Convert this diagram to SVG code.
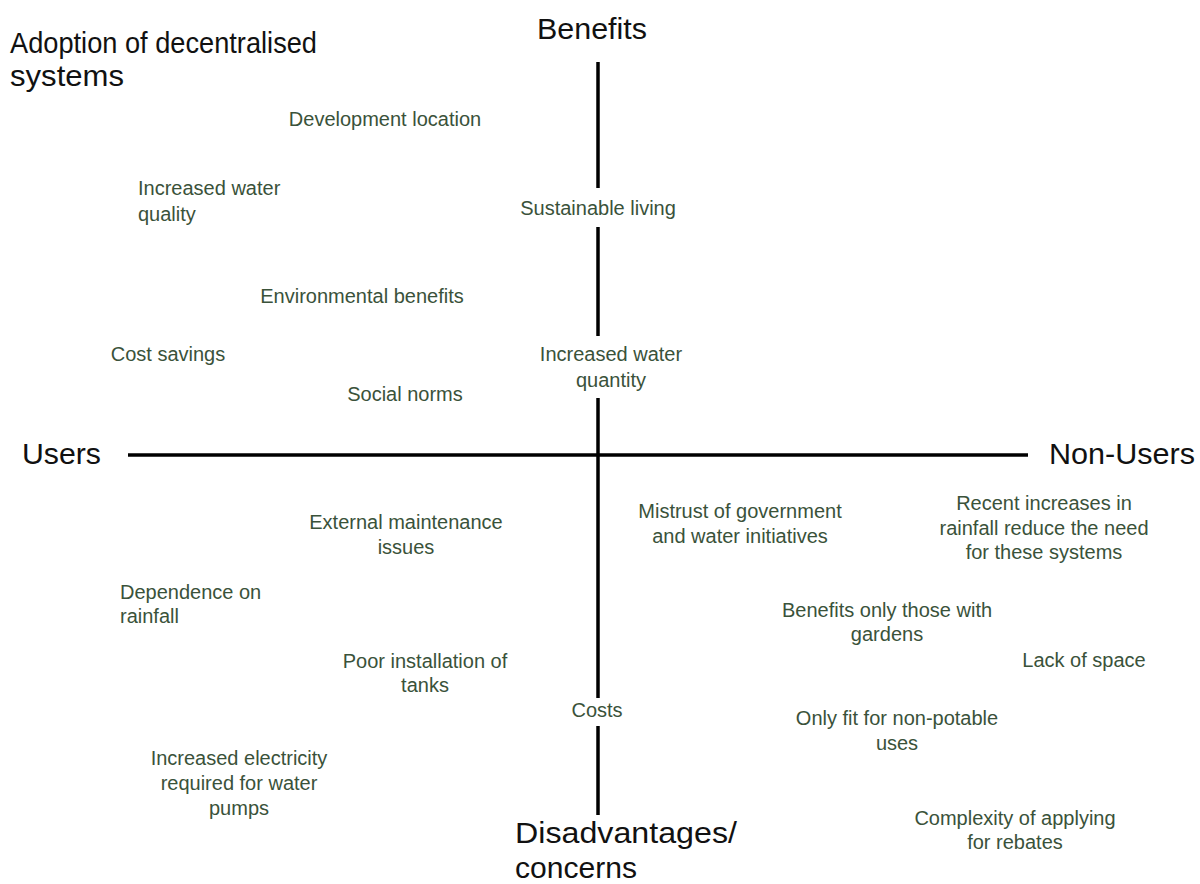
<svg xmlns="http://www.w3.org/2000/svg" width="1200" height="884" viewBox="0 0 1200 884">
<style>
.h{font-family:"Liberation Sans",Arial,sans-serif;font-size:30px;fill:#111}
.t{font-family:"Liberation Sans",Arial,sans-serif;font-size:20px;fill:#3a523a;text-anchor:middle}
.l{text-anchor:start}
.ax{stroke:#000;stroke-width:3.5;fill:none}
</style>
<rect width="1200" height="884" fill="#fff"/>
<g id="axes">
<line class="ax" x1="128" y1="455" x2="1028" y2="455"/>
<line class="ax" x1="598" y1="62" x2="598" y2="188"/>
<line class="ax" x1="598" y1="227" x2="598" y2="336"/>
<line class="ax" x1="598" y1="398" x2="598" y2="698"/>
<line class="ax" x1="598" y1="726" x2="598" y2="815"/>
</g>
<g id="title"><text class="h" x="10" y="53" font-size="28" textLength="307" lengthAdjust="spacingAndGlyphs">Adoption of decentralised</text><text class="h" x="10" y="86" font-size="28" textLength="114" lengthAdjust="spacingAndGlyphs">systems</text></g>
<g id="benefits"><text class="h" x="537" y="39" textLength="110" lengthAdjust="spacingAndGlyphs">Benefits</text></g>
<g id="users"><text class="h" x="22" y="464" textLength="79" lengthAdjust="spacingAndGlyphs">Users</text></g>
<g id="nonusers"><text class="h" x="1049" y="464" textLength="146" lengthAdjust="spacingAndGlyphs">Non-Users</text></g>
<g id="disadvantages"><text class="h" x="515" y="843" textLength="222" lengthAdjust="spacingAndGlyphs">Disadvantages/</text><text class="h" x="515" y="878" textLength="122" lengthAdjust="spacingAndGlyphs">concerns</text></g>
<g id="n1"><text class="t" x="385" y="126">Development location</text></g>
<g id="n2"><text class="t l" x="138" y="195">Increased water</text><text class="t l" x="138" y="221">quality</text></g>
<g id="n3"><text class="t" x="598" y="215">Sustainable living</text></g>
<g id="n4"><text class="t" x="362" y="303">Environmental benefits</text></g>
<g id="n5"><text class="t" x="168" y="361">Cost savings</text></g>
<g id="n6"><text class="t" x="611" y="361">Increased water</text><text class="t" x="611" y="387">quantity</text></g>
<g id="n7"><text class="t" x="405" y="401">Social norms</text></g>
<g id="n8"><text class="t" x="406" y="529">External maintenance</text><text class="t" x="406" y="554">issues</text></g>
<g id="n9"><text class="t" x="740" y="518">Mistrust of government</text><text class="t" x="740" y="543">and water initiatives</text></g>
<g id="n10"><text class="t" x="1044" y="510">Recent increases in</text><text class="t" x="1044" y="535">rainfall reduce the need</text><text class="t" x="1044" y="559">for these systems</text></g>
<g id="n11"><text class="t l" x="120" y="599">Dependence on</text><text class="t l" x="120" y="623">rainfall</text></g>
<g id="n12"><text class="t" x="887" y="617">Benefits only those with</text><text class="t" x="887" y="641">gardens</text></g>
<g id="n13"><text class="t" x="1084" y="667">Lack of space</text></g>
<g id="n14"><text class="t" x="425" y="668">Poor installation of</text><text class="t" x="425" y="692">tanks</text></g>
<g id="n15"><text class="t" x="597" y="717">Costs</text></g>
<g id="n16"><text class="t" x="897" y="725">Only fit for non-potable</text><text class="t" x="897" y="750">uses</text></g>
<g id="n17"><text class="t" x="239" y="765">Increased electricity</text><text class="t" x="239" y="790">required for water</text><text class="t" x="239" y="815">pumps</text></g>
<g id="n18"><text class="t" x="1015" y="825">Complexity of applying</text><text class="t" x="1015" y="849">for rebates</text></g>
</svg>
